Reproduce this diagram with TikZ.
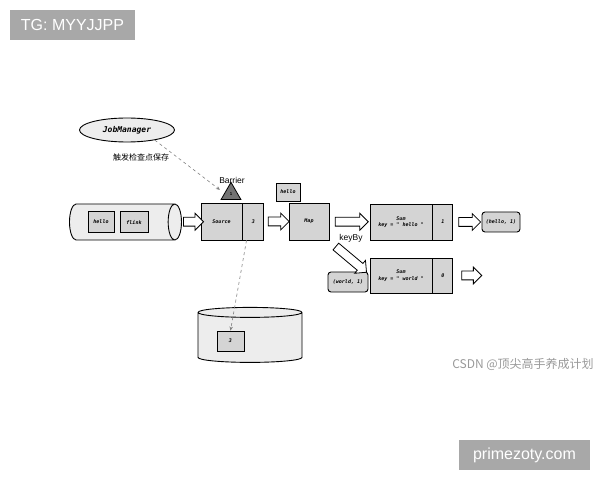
\documentclass[tikz,border=0pt]{standalone}
\usepackage{fontspec}
\setmainfont{Liberation Sans}
\newfontfamily\codefont{DejaVu Sans Mono}
\newfontfamily\cjk{Noto Sans CJK SC}
\usetikzlibrary{shapes.geometric, shapes.arrows, positioning, calc, arrows.meta}
\definecolor{opgray}{HTML}{D4D4D4}
\definecolor{pipegray}{HTML}{EDEDED}
\definecolor{wmgray}{HTML}{A8A8A8}
\tikzstyle{op} = [draw, line width = 0.9pt, fill = opgray, minimum height = 37pt, inner sep = 1pt,
    font = \codefont\bfseries\itshape\fontsize{5}{6.5}\selectfont, align = center]
\tikzstyle{rec} = [op, minimum height = 21pt]
\tikzstyle{tuple} = [rec, rounded corners = 3pt, minimum height = 20pt]
\tikzstyle{pipe} = [cylinder, draw, line width = 0.9pt, cylinder uses custom fill,
    cylinder body fill = pipegray, cylinder end fill = pipegray]
\tikzstyle{ping} = [dashed, gray, line width = 0.6pt, -{Stealth[length = 4pt, width = 3.5pt]}]
\tikzstyle{wmbox} = [fill = wmgray, text = white, minimum height = 30pt, font = \fontsize{16}{18}\selectfont]
\tikzset{hollow/.style = {single arrow, draw, line width = 0.8pt, fill = white, minimum height = #1,
    inner sep = 4pt, single arrow head extend = 4pt}}

\begin{document}
\begin{tikzpicture}[x = 1pt, y = 1pt]
    \useasboundingbox (0,0) rectangle (600,480);

    \node [wmbox, minimum width = 125pt] (tg) at (72.5,455) {TG: MYYJJPP};
    \node [wmbox, minimum width = 131pt] (pz) at (524.5,25) {primezoty.com};
    \node [text = gray!80, font = \cjk\fontsize{12}{14}\selectfont] (csdn) at (523,116) {CSDN @顶尖高手养成计划};

    \node [ellipse, draw, line width = 0.9pt, fill = pipegray, minimum width = 95pt, minimum height = 24pt,
        font = \codefont\bfseries\itshape\fontsize{8}{10}\selectfont] (jm) at (127,350) {JobManager};
    \node [font = \cjk\fontsize{8}{10}\selectfont] (trig) at (141,323) {触发检查点保存};

    \node [regular polygon, regular polygon sides = 3, draw, line width = 0.8pt, fill = gray!90!black,
        minimum size = 23pt, inner sep = 0pt, anchor = south,
        font = \codefont\bfseries\fontsize{4}{4}\selectfont] (bar) at (231,280) {1};
    \node [font = \fontsize{8.5}{10}\selectfont] (barlbl) at (232,300) {Barrier};

    \node [pipe, minimum width = 36pt, minimum height = 112pt, shape aspect = 2] (queue) at (120,258) {};
    \node [rec, minimum width = 26pt] (hello) at (101,258) {hello};
    \node [rec, minimum width = 28pt] (flink) at (134,258) {flink};

    \node [op, minimum width = 41pt] (src) at (221.5,258.5) {Source};
    \node [op, minimum width = 21pt, right = 0pt of src] (srcst) {3};
    \node [op, minimum width = 40pt] (map) at (309,258.5) {Map};
    \node [rec, minimum width = 24pt, minimum height = 18pt] (word) at (288,288) {hello};

    \node [op, minimum width = 62pt, minimum height = 36pt] (sumh) at (401,258) {Sum\\key = " hello "};
    \node [op, minimum width = 20pt, minimum height = 36pt, right = 0pt of sumh] (sumhst) {1};
    \node [op, minimum width = 62pt, minimum height = 35pt] (sumw) at (401,204.5) {Sum\\key = " world "};
    \node [op, minimum width = 20pt, minimum height = 35pt, right = 0pt of sumw] (sumwst) {0};

    \node [tuple, minimum width = 38pt] (outh) at (501,258) {(hello, 1)};
    \node [tuple, minimum width = 40pt] (inw) at (348,198) {(world, 1)};
    \node [font = \fontsize{8.5}{10}\selectfont] (keyby) at (351,242) {keyBy};

    \foreach \a/\b/\l in {queue/src/20, srcst/map/21, map/sumh/33, sumhst/outh/22}
        \node [hollow = \l pt] at ($(\a.east)!.5!(\b.west)$) {};
    \node [hollow = 20pt, right = 8pt of sumwst] (outw) {};
    \node [hollow = 40pt, rotate = -40] (split) at ($(map.south east)!.5!(sumw.west)$) {};

    \node [pipe, shape border rotate = 90, minimum width = 104pt, minimum height = 55pt, shape aspect = 1.5] (db) at (250,141.5) {};
    \node [rec, minimum width = 27pt, minimum height = 20pt] (snap) at (230.5,139) {3};

    \draw [ping] (jm.-20) -- ($(bar.west)+(-4,4)$);
    \draw [ping] (srcst.250) -- (snap.north);
\end{tikzpicture}
\end{document}
